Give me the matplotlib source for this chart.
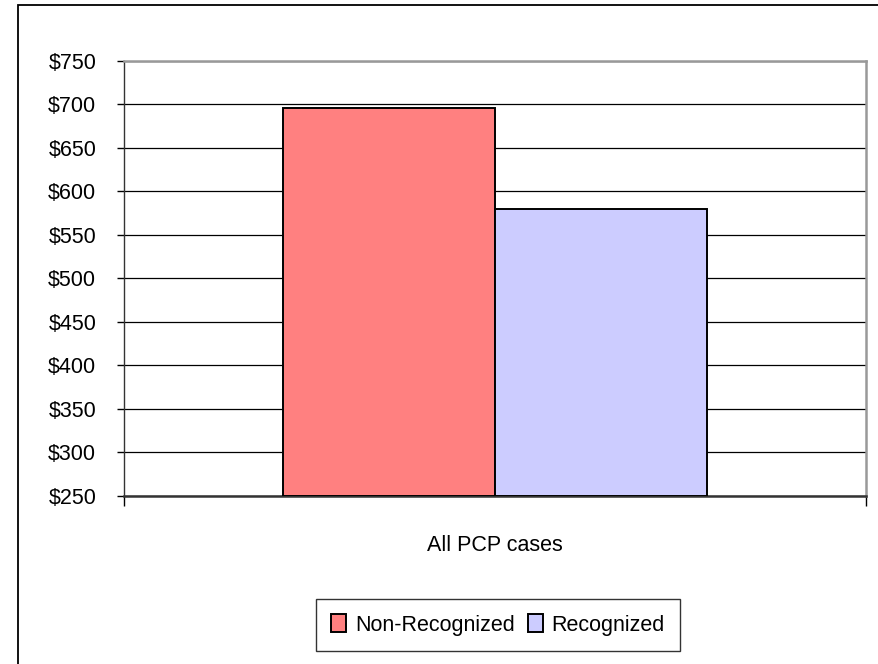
import matplotlib
matplotlib.use('Agg')
import matplotlib.pyplot as plt
from matplotlib.patches import Rectangle
from matplotlib.ticker import FuncFormatter

plt.rcParams['font.family'] = ['Liberation Sans', 'DejaVu Sans']

category = 'All PCP cases'
series = ['Non-Recognized', 'Recognized']
values = [696, 579]
colors = ['#FF8080', '#CCCCFF']
yticks = list(range(250, 751, 50))

fig = plt.figure(figsize=(8.79, 6.64), dpi=100)
ax = fig.add_axes([124 / 879, 1 - 495.7 / 664, 742 / 879, (495.7 - 60.7) / 664])

# chart frame around the whole figure (right and bottom edges fall outside)
fig.patches.append(Rectangle((18 / 879, -0.1), 1.2, 1.1 - 5 / 664, transform=fig.transFigure,
                             fill=False, edgecolor='black', linewidth=1.3))

width = 0.2857
offsets = [-width / 2, width / 2]
for name, val, col, off in zip(series, values, colors, offsets):
    ax.bar(off, val - 250, bottom=250, width=width, color=col, edgecolor='black',
           linewidth=1.4, label=name, zorder=3)

ax.set_xlim(-0.5, 0.5)
ax.set_ylim(250, 750)
ax.set_yticks(yticks)
ax.yaxis.set_major_formatter(FuncFormatter(lambda v, p: '$%d' % v))
ax.yaxis.grid(True, color='black', linewidth=0.9, zorder=0)
ax.set_axisbelow(True)

ax.set_xticks([0])
ax.set_xticklabels([category])
ax.set_xticks([-0.5, 0.5], minor=True)
ax.tick_params(axis='x', which='major', length=0, pad=28, labelsize=15.5)
ax.tick_params(axis='x', which='minor', length=7, width=1, direction='out')
ax.tick_params(axis='y', length=5, width=1, direction='out', pad=15, labelsize=15.5)

for side in ['top', 'right']:
    ax.spines[side].set_color('#999999')
    ax.spines[side].set_linewidth(1.8)
ax.spines['left'].set_color('#333333')
ax.spines['left'].set_linewidth(1.0)
ax.spines['bottom'].set_color('#333333')
ax.spines['bottom'].set_linewidth(1.8)

leg = fig.legend(loc='center', bbox_to_anchor=(498 / 879, 1 - 625 / 664), ncol=2,
                 fontsize=15.5, frameon=True, fancybox=False, edgecolor='black',
                 handlelength=0.7, handleheight=0.85, handletextpad=0.4,
                 columnspacing=0.6, borderpad=0.7, borderaxespad=0)
leg.get_frame().set_linewidth(1.0)

fig.savefig('out.png', dpi=100)
